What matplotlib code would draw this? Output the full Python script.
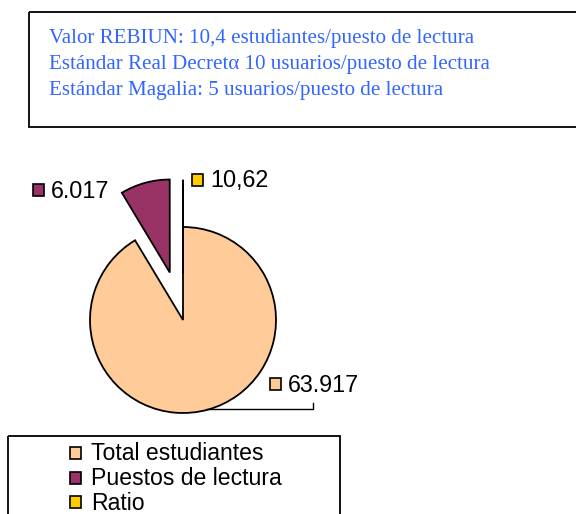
import matplotlib
matplotlib.use("Agg")
import matplotlib.pyplot as plt
from matplotlib.patches import Rectangle
from matplotlib.lines import Line2D

# ---- data ----
categories = ["Total estudiantes", "Puestos de lectura", "Ratio"]
values = [63917, 6017, 10.62]
value_labels = ["63.917", "6.017", "10,62"]
colors = ["#FFCC99", "#993366", "#FFCC00"]
info_lines = [
    "Valor REBIUN: 10,4 estudiantes/puesto de lectura",
    "Estándar Real Decretα 10 usuarios/puesto de lectura",
    "Estándar Magalia: 5 usuarios/puesto de lectura",
]

W, H = 576, 514
fig = plt.figure(figsize=(W / 100, H / 100), dpi=100)

# overlay axes in pixel coordinates (y down)
ov = fig.add_axes([0, 0, 1, 1], zorder=3)
ov.set_xlim(0, W)
ov.set_ylim(H, 0)
ov.axis("off")
ov.patch.set_alpha(0)

# pie axes: center (183, 320) px, radius ~93 px
cx, cy, R = 183, 320, 93
half = 150
pax = fig.add_axes([(cx - half) / W, (H - cy - half) / H, 2 * half / W, 2 * half / H], zorder=2)
wedges, _ = pax.pie(values, colors=colors, startangle=90, counterclock=False,
                    explode=[0, 0.53, 0.5],
                    wedgeprops=dict(edgecolor="black", linewidth=1.3))
L = half / R
pax.set_xlim(-L, L)
pax.set_ylim(-L, L)
pax.set_aspect("equal")
pax.axis("off")
for w in wedges:
    w.set_clip_on(False)

# top info box
ov.add_patch(Rectangle((29, 12), 560, 115, fill=False, edgecolor="black", linewidth=1.3, clip_on=False))
for i, t in enumerate(info_lines):
    ov.text(49, 38 + i * 26, t, fontsize=15.1, family="Liberation Serif",
            color="#3366FF", va="center", ha="left")

# data labels with colour keys
label_pos = {0: (270, 384), 1: (33, 190), 2: (192, 180)}
for idx, (kx, ky) in label_pos.items():
    ov.add_patch(Rectangle((kx, ky - 6), 11, 12, facecolor=colors[idx], edgecolor="black",
                           linewidth=1.2, clip_on=False))
    ov.text(kx + 18, ky + 1, value_labels[idx], fontsize=16.8, family="Liberation Sans",
            va="center", ha="left", color="black")

# leader line for big slice label
ov.add_line(Line2D([207, 313, 313], [409, 409, 403], color="black", linewidth=1.0))

# legend box
ov.add_patch(Rectangle((8, 436), 332, 100, fill=False, edgecolor="black", linewidth=1.3, clip_on=False))
for i, c in enumerate(categories):
    y = 453 + i * 24.5
    ov.add_patch(Rectangle((70, y - 6), 11, 12, facecolor=colors[i], edgecolor="black",
                           linewidth=1.2, clip_on=False))
    ov.text(91, y + 1, c, fontsize=16.6, family="Liberation Sans", va="center", ha="left")

fig.savefig("out.png", dpi=100)
